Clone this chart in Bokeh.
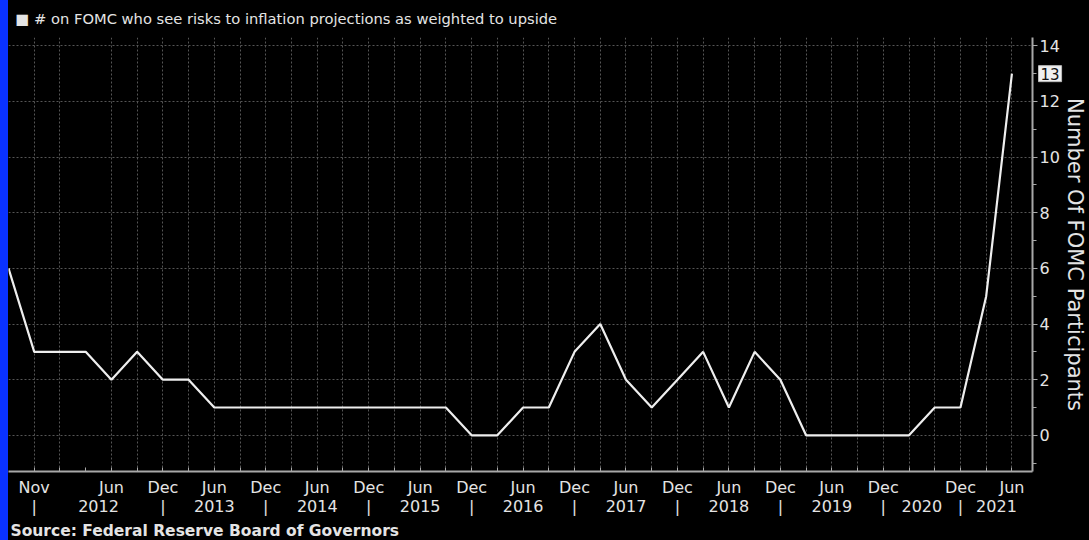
from bokeh.plotting import figure
from bokeh.models import FixedTicker, LinearAxis, Range1d, Label, Title, GlobalInlineStyleSheet
from bokeh.embed import file_html
from bokeh.resources import INLINE

# ---- data ----
meetings = ["2011-06", "2011-11", "2012-01", "2012-04", "2012-06", "2012-09", "2012-12",
            "2013-03", "2013-06", "2013-09", "2013-12", "2014-03", "2014-06", "2014-09", "2014-12",
            "2015-03", "2015-06", "2015-09", "2015-12", "2016-03", "2016-06", "2016-09", "2016-12",
            "2017-03", "2017-06", "2017-09", "2017-12", "2018-03", "2018-06", "2018-09", "2018-12",
            "2019-03", "2019-06", "2019-09", "2019-12", "2020-06", "2020-09", "2020-12",
            "2021-03", "2021-06"]
values = [6, 3, 3, 3, 2, 3, 2,
          2, 1, 1, 1, 1, 1, 1, 1,
          1, 1, 1, 0, 0, 1, 1, 3,
          4, 2, 1, 2, 3, 1, 3, 2,
          0, 0, 0, 0, 0, 1, 1,
          5, 13]
month_label_meetings = ["2011-11", "2012-06", "2012-12", "2013-06", "2013-12", "2014-06", "2014-12",
                        "2015-06", "2015-12", "2016-06", "2016-12", "2017-06", "2017-12",
                        "2018-06", "2018-12", "2019-06", "2019-12", "2020-12", "2021-06"]
month_names = {"01": "Jan", "03": "Mar", "04": "Apr", "06": "Jun", "09": "Sep", "11": "Nov", "12": "Dec"}
year_separator_meetings = ["2011-11", "2012-12", "2013-12", "2014-12", "2015-12", "2016-12",
                           "2017-12", "2018-12", "2019-12", "2020-12"]
year_labels = ["2012", "2013", "2014", "2015", "2016", "2017", "2018", "2019", "2020", "2021"]
y_ticks = [0, 2, 4, 6, 8, 10, 12, 14]
y_minor = [-1, 1, 3, 5, 7, 9, 11, 13]
no_grid_meetings = ["2012-04"]

TITLE = "\u25A0 # on FOMC who see risks to inflation projections as weighted to upside"
SOURCE = "Source: Federal Reserve Board of Governors"
YLABEL = "Number Of FOMC Participants"

# ---- positions (observation index axis) ----
pos = {m: i - 1 for i, m in enumerate(meetings)}
xs = [pos[m] for m in meetings]
x_start, x_end = -1.0, 38.8
y_start, y_end = -1.3, 14.3

FONT = "DejaVu Sans"
TXT = "#e4e4e4"
AX = "#a8a8a8"
GRID = "#555555"

p = figure(width=1081, height=540, output_backend="svg", toolbar_location=None,
           x_range=Range1d(x_start, x_end), y_range=Range1d(y_start, y_end),
           y_axis_location="right", background_fill_color="black",
           border_fill_color="black", min_border_left=0, min_border_right=0,
           min_border_top=37, min_border_bottom=68)
p.outline_line_color = None
p.styles = {"margin-left": "8px"}
p.stylesheets = [GlobalInlineStyleSheet(
    css="html, body { background: linear-gradient(to right, #0a32ff 0px, #0a32ff 8px, #000 8px) !important; overflow: hidden; }")]

# grids
p.xgrid.ticker = FixedTicker(ticks=[pos[m] for m in meetings if m not in no_grid_meetings and pos[m] >= 0])
p.ygrid.ticker = FixedTicker(ticks=y_ticks)
for g in (p.xgrid, p.ygrid):
    g.grid_line_color = GRID
    g.grid_line_dash = "2 2"
    g.grid_line_width = 1

# line
p.line(xs, values, line_color="#eeeeee", line_width=2.2)

# y axis (right)
ya = p.yaxis[0]
ya.ticker = FixedTicker(ticks=y_ticks, minor_ticks=y_minor)
ya.axis_label = YLABEL
ya.axis_label_text_font = FONT
ya.axis_label_text_font_size = "21px"
ya.axis_label_text_font_style = "normal"
ya.axis_label_text_color = TXT
ya.axis_label_standoff = 0
ya.major_label_text_font = FONT
ya.major_label_text_font_size = "16px"
ya.major_label_text_color = TXT
ya.major_label_standoff = 2
ya.axis_line_color = AX
ya.axis_line_width = 2
ya.major_tick_line_color = AX
ya.minor_tick_line_color = AX
ya.major_tick_in = 0
ya.major_tick_out = 5
ya.minor_tick_in = 0
ya.minor_tick_out = 4

# x axis: months
xa = p.xaxis[0]
tick_positions = [pos[m] for m in meetings if pos[m] >= 0]
overrides = {t: "" for t in tick_positions}
for m in month_label_meetings:
    overrides[pos[m]] = month_names[m[5:]]
xa.ticker = FixedTicker(ticks=tick_positions, minor_ticks=[])
xa.major_label_overrides = overrides
xa.major_label_text_font = FONT
xa.major_label_text_font_size = "16px"
xa.major_label_text_color = TXT
xa.major_label_standoff = 6
xa.axis_line_color = AX
xa.axis_line_width = 2
xa.major_tick_line_color = AX
xa.major_tick_in = 4
xa.major_tick_out = 0

# x axis: years and separators
seps = [pos[m] for m in year_separator_meetings]
bounds = seps + [x_end]
year_pos = [(bounds[i] + bounds[i + 1]) / 2 for i in range(len(year_labels))]
yr_over = {s: "|" for s in seps}
for yp, yl in zip(year_pos, year_labels):
    yr_over[yp] = yl
ya2 = LinearAxis(ticker=FixedTicker(ticks=seps + year_pos, minor_ticks=[]),
                 major_label_overrides=yr_over)
ya2.axis_line_color = None
ya2.major_tick_line_color = None
ya2.major_tick_in = 0
ya2.major_tick_out = 0
ya2.major_label_standoff = -3
ya2.major_label_text_font = FONT
ya2.major_label_text_font_size = "16px"
ya2.major_label_text_color = TXT
p.add_layout(ya2, "below")

# source
src = Title(text=SOURCE, text_font=FONT, text_font_size="15.5px", text_font_style="bold",
            text_color=TXT, align="left", offset=2, standoff=2)
p.add_layout(src, "below")

# header text (legend-like title) drawn from the top panel
head = Label(x=x_start, y=y_end, x_offset=7, y_offset=19, text=TITLE,
             text_font=FONT, text_font_size="14.7px", text_color=TXT,
             text_baseline="middle", text_align="left")
p.add_layout(head, "above")

# last value tag (just right of the frame, at the last value's height)
tag = Label(x=x_end, y=values[-1], text=str(values[-1]), x_offset=6,
            text_font=FONT, text_font_size="15px", text_color="#111111",
            text_baseline="middle", text_align="left",
            background_fill_color="#f0f0f0", border_line_color="#bbbbbb",
            padding=2)
p.add_layout(tag, "above")

open("out.html", "w").write(file_html(p, INLINE))
